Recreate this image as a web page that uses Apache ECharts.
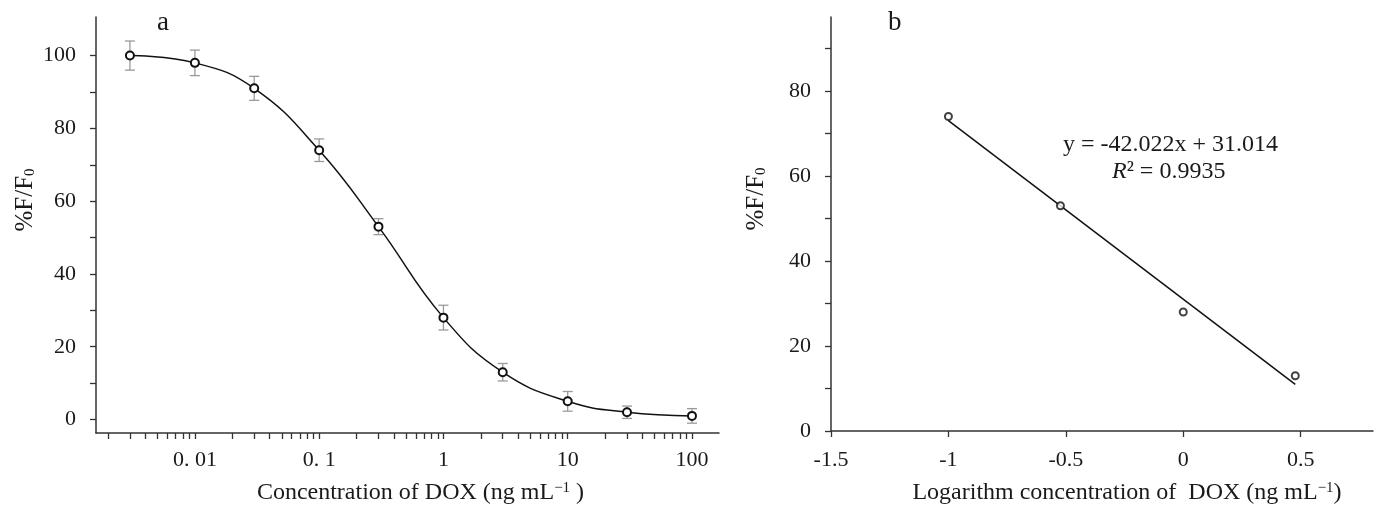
<!DOCTYPE html>
<html>
<head>
<meta charset="utf-8">
<script src="https://cdn.jsdelivr.net/npm/echarts@6/dist/echarts.min.js"></script>
<style>
  html, body { margin: 0; padding: 0; background: #fff; }
  #chart { width: 1379px; height: 510px; }
</style>
</head>
<body>
<div id="chart"></div>
<script>
// Panel a: inhibition curve, concentration in ng/mL (log scale)
const concentrations = [0.003, 0.01, 0.03, 0.1, 0.3, 1, 3, 10, 30, 100];
const ratioA = [100, 98, 91, 74, 53, 28, 13, 5, 2, 1];
const errorA = [4, 3.5, 3.3, 3.1, 2.2, 3.4, 2.4, 2.7, 1.7, 2];
const tickLabelsA = ['0. 01', '0. 1', '1', '10', '100'];
const labelValuesA = [0.01, 0.1, 1, 10, 100];
const yLabelsA = [0, 20, 40, 60, 80, 100];
const yTicksA = [0, 10, 20, 30, 40, 50, 60, 70, 80, 90, 100];

// Panel b: linear range, log10 of concentration
const logConc = [-1, -0.523, 0, 0.477];
const ratioB = [74, 53, 28, 13];
const slope = -42.022;
const intercept = 31.014;
const rSquared = '0.9935';
const xLabelsB = [-1.5, -1, -0.5, 0, 0.5];
const yLabelsB = [0, 20, 40, 60, 80];
const yTicksB = [0, 10, 20, 30, 40, 50, 60, 70, 80, 90];

const FONT = '"Liberation Serif", "Times New Roman", serif';
const INK = '#1a1a1a';
const AXIS = '#333';

// minor log ticks: 2..9 within each decade, 0.002 .. 100
const logTicks = [];
for (let e = -3; e <= 2; e++) {
  for (let m = 1; m <= 9; m++) {
    const v = +(m * Math.pow(10, e)).toPrecision(6);
    if (v >= 0.002 && v <= 100) logTicks.push(v);
  }
}

function decadeLabel(v) {
  // value may arrive either as the raw number or as its exponent
  for (let k = 0; k < labelValuesA.length; k++) {
    const lv = labelValuesA[k];
    if (Math.abs(lv - v) / lv < 1e-6) return tickLabelsA[k];
  }
  for (let k = 0; k < labelValuesA.length; k++) {
    if (Math.abs(Math.log10(labelValuesA[k]) - v) < 1e-6) return tickLabelsA[k];
  }
  return '';
}

const trendX = [Math.min(...logConc), Math.max(...logConc)];
const trendData = trendX.map(x => [x, slope * x + intercept]);

const chart = echarts.init(document.getElementById('chart'), null, { renderer: 'canvas' });

const labelStyle = { color: INK, fontFamily: FONT, fontSize: 22 };
const axisLine = { show: true, onZero: false, lineStyle: { color: AXIS, width: 1.5 } };

const yNameRich = {
  m: { fontFamily: FONT, fontSize: 25, color: INK },
  s: { fontFamily: FONT, fontSize: 15, color: INK, verticalAlign: 'bottom', padding: [10, 0, 0, 0] }
};
const xNameRich = {
  m: { fontFamily: FONT, fontSize: 24, color: INK },
  u: { fontFamily: FONT, fontSize: 15, color: INK, verticalAlign: 'top', padding: [0, 0, 8, 0] }
};

chart.setOption({
  animation: false,
  backgroundColor: '#fff',
  title: [
    { text: 'a', left: 152, top: 4, textStyle: { fontFamily: FONT, fontSize: 27, fontWeight: 'normal', color: INK } },
    { text: 'b', left: 883, top: 4, textStyle: { fontFamily: FONT, fontSize: 27, fontWeight: 'normal', color: INK } }
  ],
  grid: [
    { left: 96, top: 17, width: 623, height: 421 },
    { left: 831, top: 17, width: 542, height: 419 }
  ],
  xAxis: [
    {
      gridIndex: 0, type: 'log', logBase: 10, min: 0.0016, max: 165,
      axisLine: axisLine,
      axisTick: { show: true, length: 6, customValues: logTicks, lineStyle: { color: AXIS, width: 1.3 } },
      axisLabel: Object.assign({}, labelStyle, {
        margin: 16, customValues: labelValuesA,
        formatter: v => decadeLabel(v)
      }),
      splitLine: { show: false },
      name: '{m|Concentration of DOX (ng mL}{u|−1}{m| )}',
      nameLocation: 'middle', nameGap: 48,
      nameTextStyle: { rich: xNameRich, padding: [0, 0, 0, 26] }
    },
    {
      gridIndex: 1, type: 'value', min: -1.5, max: 0.808,
      axisLine: axisLine,
      axisTick: { show: true, length: 6, customValues: xLabelsB, lineStyle: { color: AXIS, width: 1.3 } },
      axisLabel: Object.assign({}, labelStyle, {
        margin: 18, customValues: xLabelsB,
        formatter: v => String(v)
      }),
      splitLine: { show: false },
      name: '{m|Logarithm concentration of  DOX (ng mL}{u|−1}{m|)}',
      nameLocation: 'middle', nameGap: 50,
      nameTextStyle: { rich: xNameRich, padding: [0, 0, 0, 50] }
    }
  ],
  yAxis: [
    {
      gridIndex: 0, type: 'value', min: -3.7, max: 110.6,
      axisLine: axisLine,
      axisTick: { show: true, length: 6, customValues: yTicksA, lineStyle: { color: AXIS, width: 1.3 } },
      axisLabel: Object.assign({}, labelStyle, { margin: 20, customValues: yLabelsA }),
      splitLine: { show: false },
      name: '{m|%F/F}{s|0}',
      nameLocation: 'middle', nameGap: 58, nameRotate: 90,
      nameTextStyle: { rich: yNameRich, padding: [0, 0, 0, 50] }
    },
    {
      gridIndex: 1, type: 'value', min: 0, max: 97.4,
      axisLine: axisLine,
      axisTick: { show: true, length: 6, customValues: yTicksB, lineStyle: { color: AXIS, width: 1.3 } },
      axisLabel: Object.assign({}, labelStyle, { margin: 20, customValues: yLabelsB }),
      splitLine: { show: false },
      name: '{m|%F/F}{s|0}',
      nameLocation: 'middle', nameGap: 62, nameRotate: 90,
      nameTextStyle: { rich: yNameRich, padding: [0, 0, 0, 50] }
    }
  ],
  graphic: [
    {
      type: 'text', left: 1063, top: 133,
      style: { text: 'y = -42.022x + 31.014', font: '24px ' + FONT, fill: INK }
    },
    {
      type: 'text', left: 1112, top: 160,
      style: {
        text: '{i|R}{n|² = ' + rSquared + '}',
        rich: {
          i: { fontFamily: FONT, fontSize: 24, fontStyle: 'italic', fill: INK },
          n: { fontFamily: FONT, fontSize: 24, fill: INK }
        }
      }
    }
  ],
  series: [
    {
      name: 'error', type: 'custom', xAxisIndex: 0, yAxisIndex: 0, z: 1,
      data: concentrations.map((c, i) => [c, ratioA[i], errorA[i]]),
      renderItem: (params, api) => {
        const x = api.value(0), y = api.value(1), e = api.value(2);
        const top = api.coord([x, y + e]);
        const bot = api.coord([x, y - e]);
        const w = 5;
        const st = { stroke: '#9a9a9a', lineWidth: 1.3 };
        return {
          type: 'group',
          children: [
            { type: 'line', shape: { x1: top[0], y1: top[1], x2: bot[0], y2: bot[1] }, style: st },
            { type: 'line', shape: { x1: top[0] - w, y1: top[1], x2: top[0] + w, y2: top[1] }, style: st },
            { type: 'line', shape: { x1: bot[0] - w, y1: bot[1], x2: bot[0] + w, y2: bot[1] }, style: st }
          ]
        };
      }
    },
    {
      name: 'curve', type: 'line', xAxisIndex: 0, yAxisIndex: 0, z: 3,
      data: concentrations.map((c, i) => [c, ratioA[i]]),
      smooth: 0.45,
      symbol: 'emptyCircle', symbolSize: 8,
      lineStyle: { color: '#111', width: 1.5 },
      itemStyle: { color: '#111', borderColor: '#111', borderWidth: 1.5 }
    },
    {
      name: 'fit', type: 'line', xAxisIndex: 1, yAxisIndex: 1, z: 2,
      data: trendData, symbol: 'none',
      lineStyle: { color: '#111', width: 1.5 }
    },
    {
      name: 'points', type: 'scatter', xAxisIndex: 1, yAxisIndex: 1, z: 3,
      data: logConc.map((x, i) => [x, ratioB[i]]),
      symbol: 'emptyCircle', symbolSize: 7,
      itemStyle: { color: '#111', borderColor: '#111', borderWidth: 1.3 }
    }
  ]
});
</script>
</body>
</html>
